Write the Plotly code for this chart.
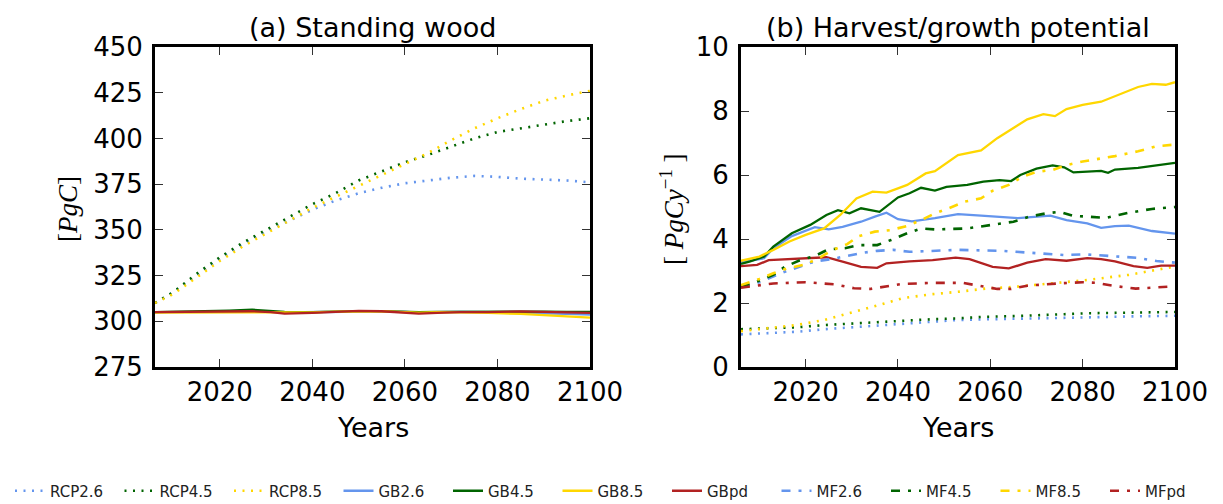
import plotly.graph_objects as go

# ---------------- colours ----------------
BLUE = "#6495ED"
GREEN = "#006400"
GOLD = "#FFD700"
RED = "#B22222"

# ---------------- panel (a): standing wood [PgC] ----------------
rcp_years_a = [2006, 2010, 2015, 2020, 2025, 2030, 2035, 2040, 2045, 2050,
               2055, 2060, 2065, 2070, 2075, 2080, 2085, 2090, 2095, 2100]
rcp26_a = [310, 316, 325, 334, 342, 349, 355, 361, 366, 370,
           373, 375.5, 377, 378.5, 379.5, 379, 378, 377.5, 377, 376]
rcp45_a = [310, 316, 326, 335, 343, 350, 357, 364, 370, 377,
           382, 387, 391, 395.5, 400, 403.5, 405.5, 407.5, 409.5, 411]
rcp85_a = [310, 315, 324, 333, 341, 348, 355, 362, 368, 374,
           380, 386, 392, 399, 405.5, 411, 416, 420.5, 423.5, 426]

gb_years_a = [2006, 2012, 2018, 2022, 2027, 2031, 2034, 2040, 2045, 2050,
              2055, 2060, 2063, 2067, 2072, 2078, 2085, 2090, 2095, 2100]
gb26_a = [305, 305, 305, 305.2, 305.4, 305.2, 304.8, 305, 305.3, 305.5,
          305.5, 305.1, 304.7, 305, 305.2, 305, 304.8, 304.4, 304, 303.7]
gb45_a = [305, 305.2, 305.3, 305.8, 306.3, 305.8, 305.2, 305, 305.4, 305.6,
          305.6, 305.3, 305, 305.2, 305.3, 305.3, 305.3, 305.3, 305.2, 305.2]
gb85_a = [304.8, 304.8, 304.6, 304.8, 305, 305, 304.8, 304.9, 305.3, 305.5,
          305.5, 305, 304.7, 305, 305, 304.6, 304, 303.2, 302.6, 302]
gbpd_a = [305, 305.2, 305, 305.3, 305.5, 305, 304.2, 304.6, 305.2, 305.7,
          305.5, 304.8, 304.2, 304.6, 305, 305, 305.4, 305.2, 305, 304.6]

# ---------------- panel (b): harvest/growth potential [PgC/y] ----------------
rcp_years_b = [2006, 2012, 2018, 2024, 2030, 2036, 2041, 2047, 2053, 2059,
               2065, 2070, 2076, 2081, 2090, 2100]
rcp26_b = [1.02, 1.07, 1.10, 1.18, 1.24, 1.31, 1.36, 1.42, 1.47, 1.49,
           1.50, 1.52, 1.54, 1.55, 1.58, 1.60]
rcp45_b = [1.18, 1.20, 1.24, 1.31, 1.36, 1.40, 1.44, 1.49, 1.52, 1.57,
           1.59, 1.61, 1.65, 1.68, 1.70, 1.72]
rcp85_b = [1.12, 1.21, 1.31, 1.47, 1.70, 1.94, 2.15, 2.27, 2.35, 2.45,
           2.50, 2.56, 2.65, 2.72, 2.88, 3.14]

gb26_years = [2006, 2011, 2013, 2017, 2022, 2025, 2028, 2032, 2035, 2037.5, 2040,
              2043, 2048, 2053, 2058, 2066, 2073, 2076.5, 2081, 2084, 2087, 2090,
              2095, 2100]
gb26_b = [3.27, 3.40, 3.71, 4.09, 4.37, 4.30, 4.38, 4.54, 4.70, 4.82, 4.62,
          4.55, 4.65, 4.78, 4.73, 4.65, 4.73, 4.59, 4.49, 4.35, 4.40, 4.42,
          4.25, 4.17]

gb45_years = [2006, 2008, 2011, 2013, 2017, 2021, 2024.5, 2027, 2029.5, 2032,
              2036, 2040, 2042.5, 2045, 2048, 2050.5, 2055, 2058.5, 2062, 2064.5,
              2066.5, 2070, 2073.5, 2076, 2078, 2084, 2085.5, 2087, 2092, 2096, 2100]
gb45_b = [3.22, 3.30, 3.45, 3.76, 4.18, 4.44, 4.75, 4.90, 4.80, 4.96,
          4.85, 5.30, 5.43, 5.60, 5.51, 5.63, 5.69, 5.79, 5.84, 5.81,
          6.00, 6.20, 6.30, 6.24, 6.08, 6.13, 6.07, 6.17, 6.22, 6.30, 6.38]

gb85_years = [2006, 2010, 2013, 2016.5, 2020, 2024, 2027.5, 2031, 2034.5, 2037.5,
              2040, 2042, 2046, 2048, 2053, 2058, 2061.5, 2065, 2068, 2071.5,
              2074, 2076.5, 2080, 2084, 2087, 2092, 2095, 2098, 2100]
gb85_b = [3.32, 3.45, 3.66, 3.92, 4.13, 4.33, 4.75, 5.27, 5.48, 5.45,
          5.58, 5.69, 6.05, 6.12, 6.62, 6.77, 7.15, 7.46, 7.74, 7.90,
          7.84, 8.06, 8.19, 8.29, 8.46, 8.75, 8.85, 8.82, 8.90]

gbpd_years = [2006, 2009.5, 2012, 2017, 2024.5, 2028, 2032, 2035.5, 2037.5, 2042.5,
              2047.5, 2052.5, 2055.5, 2060.5, 2064, 2068, 2072, 2076.5, 2081, 2084,
              2087, 2091, 2094, 2097, 2100]
gbpd_b = [3.15, 3.19, 3.34, 3.37, 3.43, 3.29, 3.13, 3.10, 3.24, 3.30,
          3.34, 3.42, 3.37, 3.13, 3.08, 3.26, 3.37, 3.32, 3.40, 3.37,
          3.30, 3.15, 3.10, 3.17, 3.17]

mf26_years = [2006, 2010, 2015, 2019, 2022, 2025.5, 2029, 2032.5, 2035.5, 2039,
              2042.5, 2046, 2053, 2062.5, 2069.5, 2076, 2080.5, 2087, 2092, 2096, 2100]
mf26_b = [2.50, 2.65, 2.95, 3.16, 3.30, 3.37, 3.47, 3.57, 3.63, 3.66,
          3.60, 3.62, 3.66, 3.63, 3.57, 3.50, 3.52, 3.47, 3.41, 3.31, 3.26]

mf45_years = [2006, 2010, 2013, 2015.5, 2018.5, 2022, 2025, 2028.5, 2031.5, 2035.5,
              2038.5, 2042, 2045, 2048, 2055, 2058.5, 2062, 2065, 2068.5, 2072,
              2075, 2078, 2081, 2085, 2090, 2095, 2100]
mf45_b = [2.50, 2.70, 2.88, 3.13, 3.32, 3.47, 3.68, 3.71, 3.81, 3.81,
          3.97, 4.18, 4.33, 4.30, 4.33, 4.41, 4.49, 4.54, 4.70, 4.80,
          4.85, 4.72, 4.70, 4.66, 4.82, 4.94, 5.00]

mf85_years = [2006, 2010, 2013, 2016, 2019.5, 2022.5, 2025.5, 2029, 2031.5, 2035,
              2038.5, 2042, 2045, 2048, 2051, 2054.5, 2058, 2060.5, 2064, 2067,
              2070, 2073.5, 2076.5, 2080, 2087, 2092, 2096, 2100]
mf85_b = [2.56, 2.75, 2.93, 3.08, 3.19, 3.37, 3.63, 3.84, 4.09, 4.23,
          4.28, 4.41, 4.59, 4.80, 4.96, 5.17, 5.27, 5.51, 5.69, 5.95,
          6.10, 6.16, 6.31, 6.42, 6.59, 6.74, 6.90, 6.95]

mfpd_years = [2006, 2013, 2020, 2026.5, 2030.5, 2034, 2040.5, 2047.5, 2054, 2058,
              2061.5, 2064.5, 2068, 2074.5, 2080, 2083, 2087, 2091.5, 2096, 2100]
mfpd_b = [2.48, 2.61, 2.65, 2.58, 2.46, 2.44, 2.59, 2.63, 2.63, 2.53,
          2.44, 2.44, 2.54, 2.61, 2.65, 2.63, 2.53, 2.45, 2.48, 2.52]

x_tick_years = [2020, 2040, 2060, 2080, 2100]
y_ticks_a = [275, 300, 325, 350, 375, 400, 425, 450]
y_ticks_b = [0, 2, 4, 6, 8, 10]

# ---------------- styles ----------------
DOT = "2px,6.5px"
DASHDOT = "9px,8px,3px,8px"
LW_DOT = 2.6
LW_SOLID = 2.3
LW_DD = 2.6

fig = go.Figure()

def add(x, y, name, color, dash, width, axis, show):
    fig.add_trace(go.Scatter(
        x=x, y=y, mode="lines", name=name, legendgroup=name, showlegend=show,
        line=dict(color=color, dash=dash, width=width),
        xaxis="x" if axis == 1 else "x2", yaxis="y" if axis == 1 else "y2",
        hoverinfo="skip"))

# panel (a)
add(rcp_years_a, rcp26_a, "RCP2.6", BLUE, DOT, LW_DOT, 1, False)
add(rcp_years_a, rcp45_a, "RCP4.5", GREEN, DOT, LW_DOT, 1, False)
add(rcp_years_a, rcp85_a, "RCP8.5", GOLD, DOT, LW_DOT, 1, False)
add(gb_years_a, gb26_a, "GB2.6", BLUE, "solid", LW_SOLID, 1, False)
add(gb_years_a, gb45_a, "GB4.5", GREEN, "solid", LW_SOLID, 1, False)
add(gb_years_a, gb85_a, "GB8.5", GOLD, "solid", LW_SOLID, 1, False)
add(gb_years_a, gbpd_a, "GBpd", RED, "solid", LW_SOLID, 1, False)

# panel (b)
add(rcp_years_b, rcp26_b, "RCP2.6", BLUE, DOT, LW_DOT, 2, True)
add(rcp_years_b, rcp45_b, "RCP4.5", GREEN, DOT, LW_DOT, 2, True)
add(rcp_years_b, rcp85_b, "RCP8.5", GOLD, DOT, LW_DOT, 2, True)
add(gb26_years, gb26_b, "GB2.6", BLUE, "solid", LW_SOLID, 2, True)
add(gb45_years, gb45_b, "GB4.5", GREEN, "solid", LW_SOLID, 2, True)
add(gb85_years, gb85_b, "GB8.5", GOLD, "solid", LW_SOLID, 2, True)
add(gbpd_years, gbpd_b, "GBpd", RED, "solid", LW_SOLID, 2, True)
add(mf26_years, mf26_b, "MF2.6", BLUE, DASHDOT, LW_DD, 2, True)
add(mf45_years, mf45_b, "MF4.5", GREEN, DASHDOT, LW_DD, 2, True)
add(mf85_years, mf85_b, "MF8.5", GOLD, DASHDOT, LW_DD, 2, True)
add(mfpd_years, mfpd_b, "MFpd", RED, DASHDOT, LW_DD, 2, True)

# page has an 8px body margin: the figure is drawn 8px right/down of the window corner
OFF = 8
W, H = 1223 - OFF, 504 - OFF
FONT = "DejaVu Sans"

def px(x):
    return (x - OFF) / W

def py(y):
    return 1 - (y - OFF) / H

axis_common = dict(
    showline=True, linewidth=3, linecolor="black", mirror="allticks",
    ticks="inside", ticklen=8, tickwidth=1.2, tickcolor="#333",
    showgrid=False, zeroline=False,
    tickfont=dict(family=FONT, size=26, color="black"),
)

xd_a = [px(155), px(590)]
xd_b = [px(741), px(1175)]
yd = [py(367), py(47)]

fig.update_layout(
    width=W, height=H,
    margin=dict(l=0, r=0, t=0, b=0, autoexpand=False),
    paper_bgcolor="white", plot_bgcolor="white",
    font=dict(family=FONT, color="black"),
    xaxis=dict(domain=xd_a, range=[2006, 2100], tickvals=x_tick_years,
               anchor="y", ticklabelstandoff=0, **axis_common),
    yaxis=dict(domain=yd, range=[275, 450], tickvals=y_ticks_a,
               anchor="x", ticklabelstandoff=4, **axis_common),
    xaxis2=dict(domain=xd_b, range=[2006, 2100], tickvals=x_tick_years,
                anchor="y2", ticklabelstandoff=0, **axis_common),
    yaxis2=dict(domain=yd, range=[0, 10], tickvals=y_ticks_b,
                anchor="x2", ticklabelstandoff=4, **axis_common),
    legend=dict(orientation="h", x=px(10), xanchor="left", y=py(491), yanchor="middle",
                font=dict(family=FONT, size=15, color="#222"), traceorder="normal",
                bgcolor="rgba(0,0,0,0)", itemwidth=30, entrywidth=64.5),
    showlegend=True,
)

ann = [
    dict(text="(a) Standing wood", x=px(372.5), y=py(27), size=27, family=FONT, angle=0),
    dict(text="(b) Harvest/growth potential", x=px(958), y=py(27), size=27, family=FONT, angle=0),
    dict(text="Years", x=px(372.5), y=py(427), size=27, family=FONT, angle=0),
    dict(text="Years", x=px(958), y=py(427), size=27, family=FONT, angle=0),
    dict(text="[<i>PgC</i>]", x=px(68), y=py(209), size=27, family="Liberation Serif", angle=-90),
    dict(text="[ <i>PgCy</i><sup>−1</sup> ]", x=px(672), y=py(209), size=27,
         family="Liberation Serif", angle=-90),
]
for a in ann:
    fig.add_annotation(text=a["text"], x=a["x"], y=a["y"], xref="paper", yref="paper",
                       xanchor="center", yanchor="middle", showarrow=False,
                       textangle=a["angle"], font=dict(family=a["family"], size=a["size"], color="black"))

fig.write_html("out.html")
